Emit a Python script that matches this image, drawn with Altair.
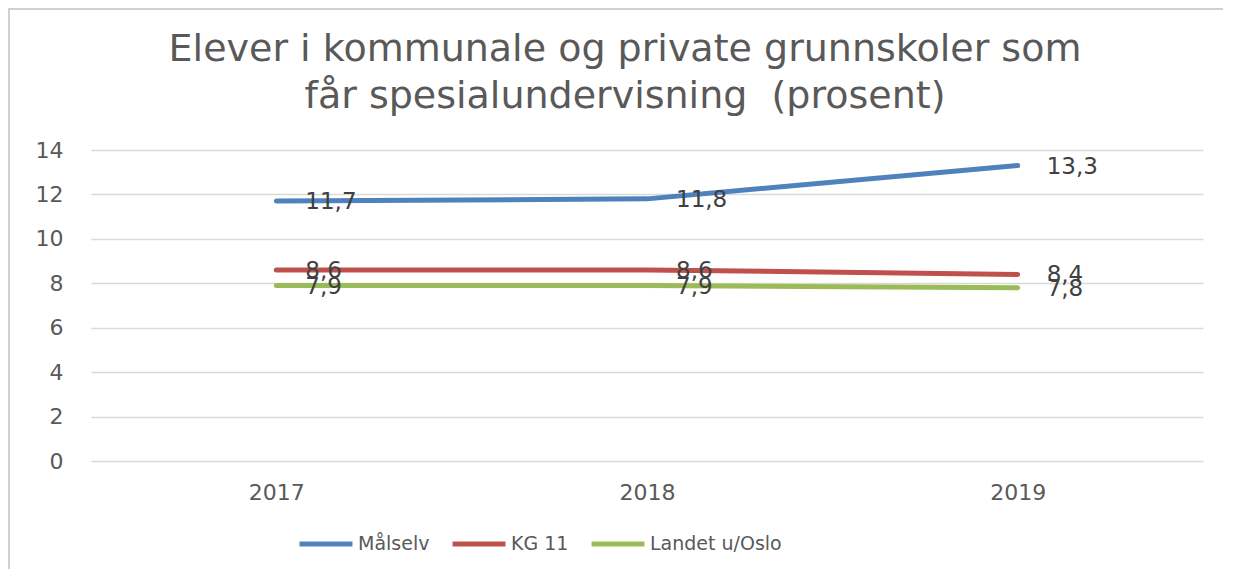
import altair as alt
import pandas as pd

years = ["2017", "2018", "2019"]
series_names = ["Målselv", "KG 11", "Landet u/Oslo"]
malselv = [11.7, 11.8, 13.3]
kg11 = [8.6, 8.6, 8.4]
landet = [7.9, 7.9, 7.8]
colors = ["#4F81BD", "#C0504D", "#9BBB59"]
title_lines = ["Elever i kommunale og private grunnskoler som",
               "får spesialundervisning\u00a0 (prosent)"]

rows = []
for name, vals in zip(series_names, [malselv, kg11, landet]):
    for y, v in zip(years, vals):
        rows.append({"year": y, "serie": name, "value": v})
df = pd.DataFrame(rows)

FONT = "DejaVu Sans"
W, H = 1112, 311

base = alt.Chart(df).encode(
    x=alt.X("year:O", scale=alt.Scale(type="point", padding=0.5),
            axis=alt.Axis(title=None, labelAngle=0, ticks=False, domain=False,
                          labelPadding=21, labelFontSize=22, labelFont=FONT,
                          labelColor="#595959")),
    y=alt.Y("value:Q", scale=alt.Scale(domain=[0, 14], nice=False),
            axis=alt.Axis(title=None, values=list(range(0, 15, 2)), ticks=False,
                          domain=False, labelPadding=28, labelFontSize=22,
                          labelFont=FONT, labelColor="#595959",
                          gridColor="#d9d9d9", gridWidth=1.5)),
)

lines = base.mark_line(strokeWidth=5, strokeCap="round", strokeJoin="round").encode(
    color=alt.Color("serie:N", scale=alt.Scale(domain=series_names, range=colors),
                    sort=series_names,
                    legend=alt.Legend(title=None, orient="none", direction="horizontal",
                                      legendX=206, legendY=365,
                                      symbolType="stroke", symbolStrokeWidth=5,
                                      symbolSize=2800, labelFontSize=19, labelFont=FONT,
                                      labelColor="#595959", labelOffset=3,
                                      columnPadding=12))
)

labels = base.transform_calculate(
    lab="replace(format(datum.value, '.1f'), '.', ',')"
).mark_text(align="left", baseline="middle", dx=29, dy=1, fontSize=23,
            font=FONT, color="#404040").encode(text="lab:N")

one = pd.DataFrame({"k": [0]})
title = alt.Chart(one).mark_text(
    align="center", baseline="alphabetic", fontSize=38, font=FONT,
    color="#595959", lineHeight=47
).encode(x=alt.value(534), y=alt.value(-89), text=alt.value(title_lines))

top_border = alt.Chart(one).mark_rule(color="#d0d0d0", strokeWidth=2).encode(
    x=alt.value(-83), x2=alt.value(W + 20), y=alt.value(-141))
left_border = alt.Chart(one).mark_rule(color="#d0d0d0", strokeWidth=2).encode(
    x=alt.value(-82), y=alt.value(-142), y2=alt.value(H + 120))

chart = alt.layer(top_border, left_border, title, lines, labels).properties(
    width=W, height=H,
    padding={"left": 83, "top": 142, "right": 20, "bottom": 108},
    autosize=alt.AutoSizeParams(type="none"),
).configure_view(stroke=None)

chart.save("out.html", embed_options={"renderer": "svg", "actions": False})
